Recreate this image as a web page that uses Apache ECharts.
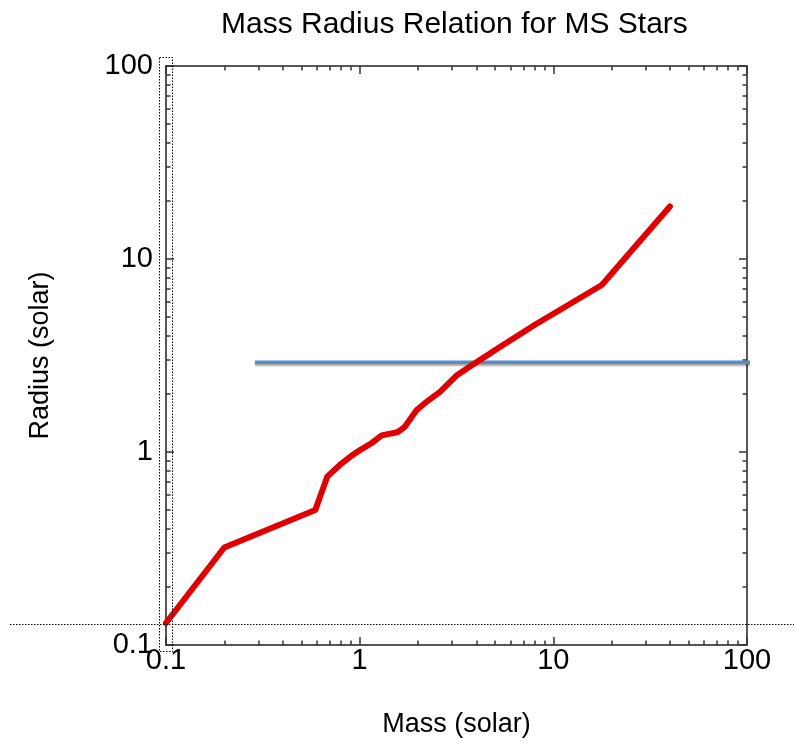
<!DOCTYPE html>
<html>
<head>
<meta charset="utf-8">
<script src="https://cdn.jsdelivr.net/npm/echarts@6/dist/echarts.min.js"></script>
<style>
html,body{margin:0;padding:0;background:#fff;}
#chart{width:794px;height:746px;}
</style>
</head>
<body>
<div id="chart"></div>
<script>
// ---- data ----
const mass   = [0.1, 0.2, 0.59, 0.68, 0.79, 0.9, 1.0, 1.15, 1.3, 1.58, 1.71, 1.97, 2.17, 2.6, 3.18, 3.71, 5.3, 8.0, 17.8, 40];
const radius = [0.13, 0.32, 0.50, 0.745, 0.857, 0.95, 1.02, 1.11, 1.22, 1.27, 1.35, 1.65, 1.79, 2.05, 2.5, 2.77, 3.5, 4.55, 7.33, 18.7];
const refLineX = [0.288, 107];
const refLineY = 2.92;
const majorTicks = [0.1, 1, 10, 100];
const minorTicks = [0.2, 0.3, 0.4, 0.5, 0.6, 0.7, 0.8, 0.9,
                    2, 3, 4, 5, 6, 7, 8, 9,
                    20, 30, 40, 50, 60, 70, 80, 90];
const axisMin = 0.1, axisMax = 100;

const FONT = 'Liberation Sans, Arial, Helvetica, sans-serif';
const chart = echarts.init(document.getElementById('chart'), null, {renderer: 'canvas'});

function mkAxis(pos, kind, extra) {
  const isMajor = kind === 'major';
  const isMain = pos === 'bottom' || pos === 'left';
  const base = {
    type: 'log', logBase: 10, min: axisMin, max: axisMax, position: pos,
    splitLine: {show: false},
    axisLine: {show: isMajor, onZero: false,
      lineStyle: {color: isMain ? '#555' : '#222', width: isMain ? 2 : 1.5}},
    axisTick: {show: true, inside: true, length: isMajor ? 8 : 4.5,
      customValues: isMajor ? majorTicks : minorTicks,
      lineStyle: {color: '#333', width: 1.5}},
    axisLabel: {show: false},
    minorTick: {show: false},
    axisPointer: {show: false}
  };
  return Object.assign(base, extra || {});
}

const labelStyle = {fontFamily: FONT, fontSize: 29, color: '#000'};

const option = {
  backgroundColor: '#fff',
  animation: false,
  title: {
    text: 'Mass Radius Relation for MS Stars',
    left: 216, top: 5,
    textStyle: {fontFamily: FONT, fontSize: 30, fontWeight: 'normal', color: '#000'}
  },
  grid: {left: 166, right: 47, top: 66, bottom: 101, containLabel: false},
  xAxis: [
    mkAxis('bottom', 'major', {name: 'Mass (solar)', nameLocation: 'middle', nameGap: 66,
      nameTextStyle: {fontFamily: FONT, fontSize: 27, color: '#000'},
      axisLabel: Object.assign({show: true, customValues: majorTicks, margin: 1, formatter: v => String(v)}, labelStyle)}),
    mkAxis('bottom', 'minor'),
    mkAxis('top', 'major'),
    mkAxis('top', 'minor')
  ],
  yAxis: [
    mkAxis('left', 'major', {name: 'Radius (solar)', nameLocation: 'middle', nameGap: 112,
      nameTextStyle: {fontFamily: FONT, fontSize: 27, color: '#000'},
      axisLabel: Object.assign({show: true, customValues: majorTicks, margin: 13, formatter: v => String(v)}, labelStyle)}),
    mkAxis('left', 'minor'),
    mkAxis('right', 'major'),
    mkAxis('right', 'minor')
  ],
  series: [
    {
      type: 'line', xAxisIndex: 0, yAxisIndex: 0,
      data: refLineX.map(x => [x, refLineY]),
      showSymbol: false, clip: false, silent: true,
      lineStyle: {color: '#5b8bc5', width: 3.5, shadowColor: 'rgba(0,0,0,0.35)', shadowBlur: 2, shadowOffsetY: 2}
    },
    {
      type: 'line', xAxisIndex: 0, yAxisIndex: 0,
      data: mass.map((m, i) => [m, radius[i]]),
      showSymbol: false, clip: false, silent: true,
      lineStyle: {color: '#e00000', width: 6, cap: 'round', join: 'round'}
    }
  ],
  graphic: [
    {type: 'line', silent: true, z: 100,
      shape: {x1: 10, y1: 624.5, x2: 794, y2: 624.5},
      style: {stroke: '#000', lineWidth: 1, lineDash: [1.5, 1.5]}},
    {type: 'rect', silent: true, z: 100,
      shape: {x: 159.5, y: 57.5, width: 13, height: 594},
      style: {fill: null, stroke: '#000', lineWidth: 1, lineDash: [1.5, 1.5]}}
  ]
};
chart.setOption(option);
</script>
</body>
</html>
